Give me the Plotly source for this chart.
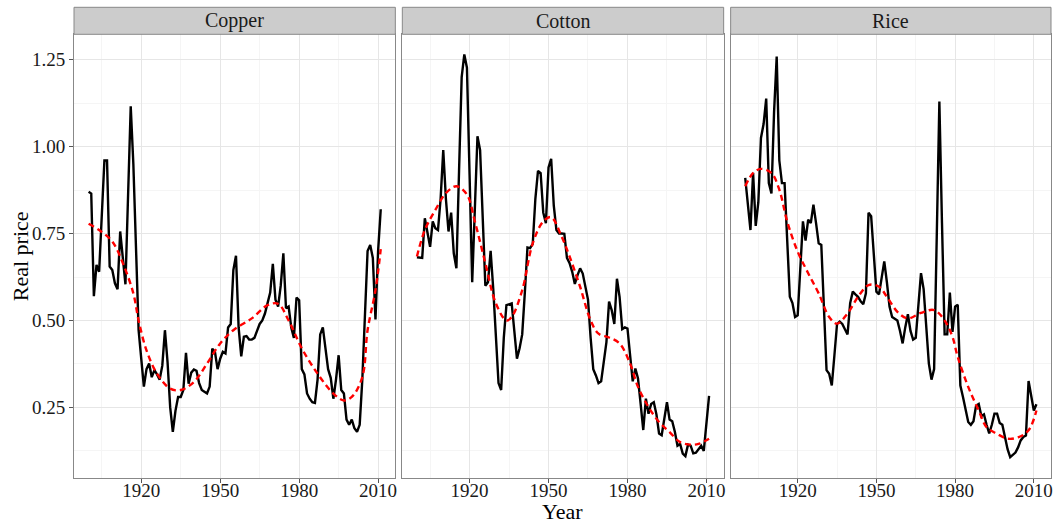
import plotly.graph_objects as go

years = list(range(1900, 2012))

copper = [0.87, 0.865, 0.57, 0.66, 0.64, 0.80, 0.96, 0.96, 0.655, 0.645,
          0.607, 0.59, 0.756, 0.68, 0.604, 0.86, 1.116, 0.95, 0.70, 0.472,
          0.39, 0.31, 0.36, 0.376, 0.337, 0.357, 0.345, 0.33, 0.37, 0.472,
          0.38, 0.25, 0.18, 0.24, 0.28, 0.28, 0.30, 0.407, 0.318, 0.35,
          0.359, 0.355, 0.32, 0.30, 0.295, 0.29, 0.31, 0.419, 0.41, 0.36,
          0.39, 0.41, 0.405, 0.48, 0.49, 0.645, 0.686, 0.48, 0.397, 0.453,
          0.455, 0.445, 0.445, 0.45, 0.47, 0.49, 0.50, 0.52, 0.55, 0.58,
          0.663, 0.56, 0.54, 0.60, 0.693, 0.535, 0.54, 0.48, 0.45, 0.566,
          0.558, 0.36, 0.345, 0.29, 0.275, 0.265, 0.263, 0.33, 0.46, 0.48,
          0.42, 0.36, 0.335, 0.275, 0.33, 0.40, 0.30, 0.29, 0.215, 0.20,
          0.215, 0.19, 0.18, 0.20, 0.33, 0.52, 0.70, 0.717, 0.68, 0.503,
          0.70, 0.82]

cotton = [0.682, 0.68, 0.68, 0.794, 0.75, 0.712, 0.785, 0.765, 0.76, 0.85,
          0.99, 0.85, 0.756, 0.81, 0.693, 0.65, 0.93, 1.20, 1.265, 1.227,
          0.92, 0.61, 0.82, 1.03, 0.99, 0.80, 0.60, 0.61, 0.70, 0.59,
          0.45, 0.32, 0.30, 0.45, 0.544, 0.547, 0.549, 0.47, 0.39, 0.42,
          0.46, 0.58, 0.71, 0.708, 0.72, 0.85, 0.93, 0.924, 0.81, 0.78,
          0.94, 0.965, 0.83, 0.76, 0.75, 0.75, 0.749, 0.68, 0.665, 0.64,
          0.605, 0.63, 0.65, 0.635, 0.60, 0.56, 0.45, 0.36, 0.342, 0.32,
          0.325, 0.39, 0.438, 0.554, 0.53, 0.49, 0.62, 0.568, 0.475, 0.48,
          0.477, 0.40, 0.325, 0.362, 0.333, 0.26, 0.185, 0.275, 0.232, 0.26,
          0.265, 0.23, 0.175, 0.17, 0.215, 0.265, 0.215, 0.21, 0.18, 0.14,
          0.145, 0.117, 0.11, 0.143, 0.14, 0.118, 0.12, 0.13, 0.14, 0.125,
          0.21, 0.283]

rice = [0.91, 0.83, 0.76, 0.925, 0.772, 0.84, 1.025, 1.065, 1.138, 0.895,
        0.865, 1.10, 1.259, 0.96, 0.895, 0.895, 0.72, 0.568, 0.55, 0.51,
        0.515, 0.67, 0.785, 0.73, 0.79, 0.78, 0.833, 0.78, 0.722, 0.717,
        0.53, 0.357, 0.347, 0.313, 0.40, 0.49, 0.497, 0.49, 0.475, 0.46,
        0.55, 0.583, 0.575, 0.568, 0.555, 0.547, 0.578, 0.81, 0.80, 0.69,
        0.583, 0.575, 0.62, 0.67, 0.61, 0.54, 0.51, 0.505, 0.50, 0.47,
        0.434, 0.48, 0.518, 0.47, 0.445, 0.45, 0.54, 0.636, 0.59, 0.48,
        0.376, 0.33, 0.36, 0.74, 1.13, 0.78, 0.46, 0.46, 0.58, 0.467,
        0.54, 0.545, 0.313, 0.28, 0.245, 0.208, 0.20, 0.21, 0.255, 0.26,
        0.225, 0.23, 0.20, 0.175, 0.20, 0.232, 0.232, 0.205, 0.20, 0.16,
        0.13, 0.107, 0.115, 0.12, 0.135, 0.155, 0.165, 0.169, 0.326, 0.28,
        0.241, 0.259]

# smoothed trend (red dashed)
copper_trend_years = [1900, 1904, 1909, 1913, 1917, 1919, 1922, 1926, 1931, 1935, 1940,
                      1945, 1950, 1955, 1962, 1968, 1972, 1976, 1981, 1987, 1993, 1997,
                      2000, 2004, 2006, 2009, 2011]
copper_trend = [0.778, 0.76, 0.727, 0.665, 0.578, 0.50, 0.414, 0.347, 0.304, 0.30, 0.323,
                0.376, 0.434, 0.472, 0.506, 0.544, 0.548, 0.50, 0.42, 0.347, 0.29, 0.27,
                0.28, 0.337, 0.472, 0.587, 0.705]

cotton_trend_years = [1900, 1903, 1907, 1911, 1915, 1919, 1922, 1926, 1930, 1934, 1936,
                      1940, 1944, 1948, 1951, 1955, 1958, 1962, 1966, 1969, 1973, 1977,
                      1981, 1984, 1988, 1992, 1996, 2000, 2004, 2007, 2011]
cotton_trend = [0.684, 0.76, 0.818, 0.866, 0.886, 0.862, 0.785, 0.665, 0.549, 0.50, 0.51,
                0.587, 0.722, 0.785, 0.797, 0.741, 0.684, 0.597, 0.50, 0.462, 0.451, 0.434,
                0.376, 0.309, 0.251, 0.208, 0.179, 0.15, 0.143, 0.145, 0.16]

rice_trend_years = [1900, 1903, 1906, 1910, 1913, 1916, 1920, 1924, 1928, 1932, 1935,
                    1939, 1943, 1947, 1951, 1954, 1958, 1962, 1967, 1972, 1976, 1979,
                    1981, 1985, 1989, 1992, 1996, 2000, 2004, 2008, 2011]
rice_trend = [0.886, 0.924, 0.936, 0.924, 0.876, 0.785, 0.698, 0.636, 0.578, 0.51, 0.491,
              0.52, 0.568, 0.602, 0.597, 0.568, 0.525, 0.506, 0.522, 0.53, 0.50, 0.453,
              0.395, 0.309, 0.241, 0.193, 0.174, 0.16, 0.164, 0.184, 0.241]

panels = ["Copper", "Cotton", "Rice"]
series = [copper, cotton, rice]
trend_x = [copper_trend_years, cotton_trend_years, rice_trend_years]
trend_y = [copper_trend, cotton_trend, rice_trend]

y_ticks = [0.25, 0.50, 0.75, 1.00, 1.25]
y_labels = ["0.25", "0.50", "0.75", "1.00", "1.25"]
x_ticks = [1920, 1950, 1980, 2010]

FONT = "Liberation Serif, Times New Roman, serif"
W, H = 1058, 525
ML, MR, MT, MB = 74, 5, 7, 47
pw = W - ML - MR
ph = H - MT - MB

px_domains = [(74, 396), (403, 725), (732, 1053)]
domains = [((a - ML) / pw, (b - ML) / pw) for a, b in px_domains]
panel_top = (H - MB - 34.3) / ph
strip_top = (H - MB - 7.3) / ph

fig = go.Figure()
for i in range(3):
    sfx = "" if i == 0 else str(i + 1)
    fig.add_trace(go.Scatter(x=years, y=series[i], mode="lines",
                             line=dict(color="black", width=2.4),
                             xaxis="x" + sfx, yaxis="y" + sfx, showlegend=False,
                             hoverinfo="skip"))
    fig.add_trace(go.Scatter(x=trend_x[i], y=trend_y[i], mode="lines",
                             line=dict(color="#FF0000", width=2.4, dash="6px,4px",
                                       shape="spline", smoothing=1.0),
                             xaxis="x" + sfx, yaxis="y" + sfx, showlegend=False,
                             hoverinfo="skip"))

grid_major = "#E6E6E6"
grid_minor = "#F5F5F5"
border = "#888888"

layout = dict(
    width=W, height=H,
    margin=dict(l=ML, r=MR, t=MT, b=MB),
    paper_bgcolor="white", plot_bgcolor="white",
    font=dict(family=FONT, color="#1a1a1a"),
    shapes=[], annotations=[],
)

for i in range(3):
    sfx = "" if i == 0 else str(i + 1)
    layout["xaxis" + sfx] = dict(
        domain=list(domains[i]), anchor="y" + sfx,
        range=[1894.45, 2016.55], tickvals=x_ticks,
        ticks="outside", ticklen=4, tickcolor="#555555", tickwidth=1,
        ticklabelstandoff=-9,
        tickfont=dict(family=FONT, size=19, color="#1a1a1a"),
        showgrid=True, gridcolor=grid_major, gridwidth=1,
        minor=dict(tickvals=[1905, 1935, 1965, 1995], showgrid=True,
                   gridcolor=grid_minor, gridwidth=1, ticks=""),
        showline=True, mirror=True, linecolor=border, linewidth=1,
        zeroline=False, fixedrange=True,
    )
    ya = dict(
        domain=[0, panel_top], anchor="x" + sfx,
        range=[0.047, 1.323], tickvals=y_ticks, ticktext=y_labels,
        showgrid=True, gridcolor=grid_major, gridwidth=1,
        minor=dict(tickvals=[0.125, 0.375, 0.625, 0.875, 1.125], showgrid=True,
                   gridcolor=grid_minor, gridwidth=1, ticks=""),
        showline=True, mirror=True, linecolor=border, linewidth=1,
        zeroline=False, fixedrange=True,
    )
    if i == 0:
        ya.update(ticks="outside", ticklen=4, tickcolor="#555555", tickwidth=1,
                  tickfont=dict(family=FONT, size=19, color="#1a1a1a"))
    else:
        ya.update(matches="y", showticklabels=False, ticks="")
    layout["yaxis" + sfx] = ya

    # strip
    layout["shapes"].append(dict(type="rect", xref="paper", yref="paper",
                                 x0=domains[i][0], x1=domains[i][1],
                                 y0=panel_top, y1=strip_top,
                                 fillcolor="#CCCCCC", line=dict(color=border, width=1),
                                 layer="above"))
    layout["annotations"].append(dict(text=panels[i], xref="paper", yref="paper",
                                      x=(domains[i][0] + domains[i][1]) / 2,
                                      y=(panel_top + strip_top) / 2,
                                      xanchor="center", yanchor="middle",
                                      showarrow=False,
                                      font=dict(family=FONT, size=20, color="#1a1a1a")))

layout["annotations"].append(dict(text="Year", xref="paper", yref="paper",
                                  x=0.5, y=-(511 - (H - MB)) / ph,
                                  xanchor="center", yanchor="middle", showarrow=False,
                                  font=dict(family=FONT, size=22, color="black")))
layout["annotations"].append(dict(text="Real price", xref="paper", yref="paper",
                                  x=-(ML - 20) / pw, y=panel_top / 2,
                                  xanchor="center", yanchor="middle", showarrow=False,
                                  textangle=-90,
                                  font=dict(family=FONT, size=22, color="black")))

fig.update_layout(**layout)
fig.write_html("out.html",
               config={"displayModeBar": False},
               post_script="document.body.style.margin='0';document.body.style.overflow='hidden';")
